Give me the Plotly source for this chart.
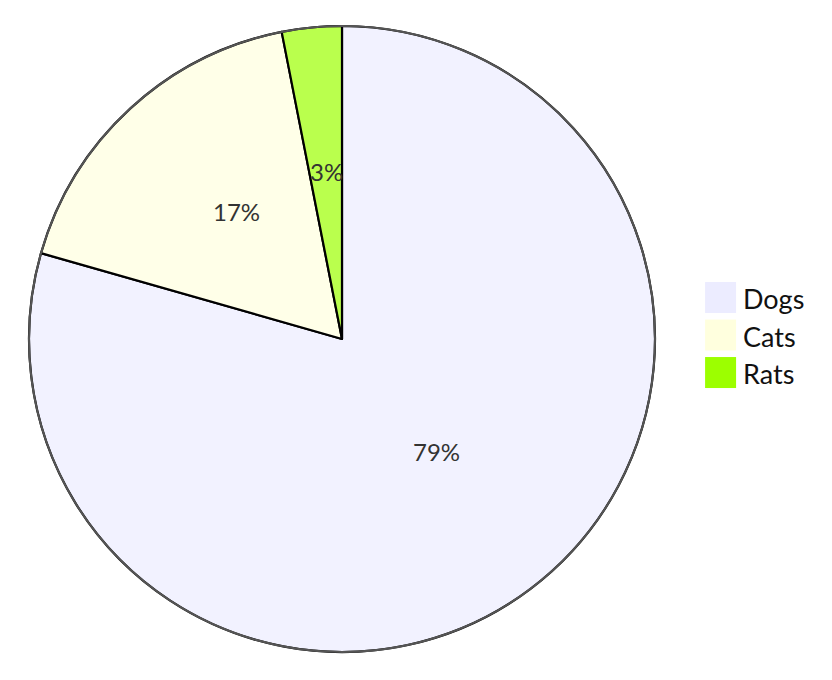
import math
import plotly.graph_objects as go

# data
labels = ["Dogs", "Cats", "Rats"]
values = [386, 85, 15]
slice_colors = ["#F2F2FF", "#FFFFE8", "#BAFF4D"]
legend_colors = ["#ECECFF", "#FFFFDE", "#9CFF00"]

fig = go.Figure()

fig.add_trace(go.Pie(
    labels=labels,
    values=values,
    sort=False,
    direction="clockwise",
    rotation=0,
    marker=dict(colors=slice_colors, line=dict(color="#000000", width=2.2)),
    textinfo="none",
    hoverinfo="label+value+percent",
    showlegend=False,
))

# percentage labels, placed half way out along each slice's middle angle
total = sum(values)
cum = 0
for v in values:
    mid = (cum + v / 2) / total * 2 * math.pi
    cum += v
    fig.add_annotation(
        xref="paper", yref="paper",
        x=0.5 + 0.25 * math.sin(mid), y=0.5 + 0.25 * math.cos(mid),
        text=f"{v / total * 100:.0f}%",
        showarrow=False,
        font=dict(size=24, color="#333333"),
        xanchor="center", yanchor="middle",
        yshift=12,
    )

# outer rim of the pie
fig.add_shape(
    type="circle", xref="paper", yref="paper",
    x0=0, x1=1, y0=0, y1=1,
    line=dict(color="#555555", width=2),
    layer="above",
)

# legend: big square swatches with labels, to the right of the pie
leg_x = 1.08
leg_y = 0.591
box = 31
step = 37.5
for i, (name, col) in enumerate(zip(labels, legend_colors)):
    fig.add_shape(
        type="rect", xref="paper", yref="paper",
        xsizemode="pixel", ysizemode="pixel",
        xanchor=leg_x, yanchor=leg_y,
        x0=0, x1=box, y0=-step * i, y1=-step * i - box,
        fillcolor=col, line=dict(width=0),
    )
    fig.add_annotation(
        xref="paper", yref="paper", x=leg_x, y=leg_y,
        xanchor="left", yanchor="middle",
        xshift=box + 5, yshift=-step * i - box / 2 - 1,
        text=name, showarrow=False,
        font=dict(size=27, color="#111111"),
    )

fig.update_layout(
    width=832,
    height=680,
    margin=dict(l=21, r=185, t=18, b=36),
    paper_bgcolor="white",
    plot_bgcolor="white",
    showlegend=False,
    font=dict(family="Trebuchet MS, Lato, sans-serif", color="#222222"),
)

fig.write_html("out.html")
